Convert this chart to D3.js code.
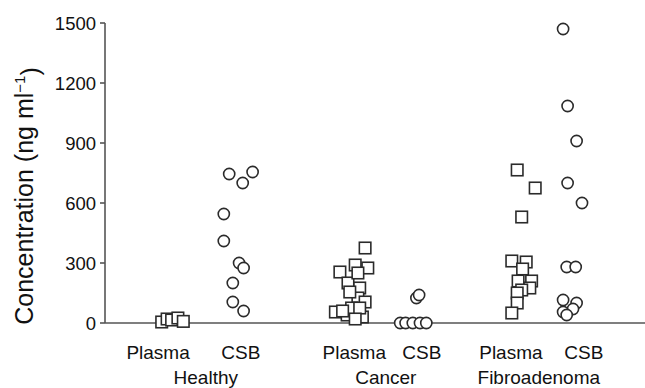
<!DOCTYPE html>
<html>
<head>
<meta charset="utf-8">
<script src="https://cdn.jsdelivr.net/npm/d3@7"></script>
<style>
  body { margin: 0; background: #fff; }
  text { font-family: "Liberation Sans", Arial, sans-serif; fill: #111; }
</style>
</head>
<body>
<svg id="canvas" width="645" height="388"></svg>
<script>
// values (ng/ml); x = horizontal position in column units
const healthyPlasma = [5, 20, 15, 25, 8];
const healthyPlasmaX = [6.3, 6.9, 7.4, 8.1, 8.7];
const healthyCsb = [745, 755, 700, 545, 410, 300, 275, 200, 105, 60];
const healthyCsbX = [13.8, 16.4, 15.3, 13.2, 13.2, 14.9, 15.4, 14.2, 14.2, 15.4];
const cancerPlasma = [375, 255, 290, 275, 200, 250, 175, 125, 155, 105, 55, 40, 30, 75, 75, 60, 20];
const cancerPlasmaX = [28.9, 26.1, 27.8, 29.2, 27.0, 28.1, 28.3, 28.1, 27.2, 28.9, 25.6, 26.9, 28.6, 27.4, 28.3, 26.4, 27.8];
const cancerCsb = [0, 0, 0, 0, 0, 125, 140];
const cancerCsbX = [32.8, 33.4, 34.2, 35.0, 35.7, 34.6, 34.9];
const fibroPlasma = [765, 675, 530, 310, 305, 270, 210, 210, 175, 165, 150, 100, 50];
const fibroPlasmaX = [45.8, 47.8, 46.3, 45.2, 46.8, 46.4, 45.9, 47.4, 47.2, 46.3, 45.8, 45.8, 45.2];
const fibroCsb = [1470, 1085, 910, 700, 600, 280, 280, 115, 100, 70, 55, 40];
const fibroCsbX = [50.9, 51.4, 52.4, 51.4, 53.0, 51.3, 52.3, 50.9, 52.4, 52.0, 50.9, 51.3];

const sampleLabels = ["Plasma", "CSB", "Plasma", "CSB", "Plasma", "CSB"];
const sampleLabelX = [5.9, 15.1, 27.7, 35.2, 45.1, 53.2];
const groupLabels = ["Healthy", "Cancer", "Fibroadenoma"];
const groupLabelX = [11.2, 31.2, 48.2];
const yTicks = [0, 300, 600, 900, 1200, 1500];

const svg = d3.select("#canvas");

const x = d3.scaleLinear().domain([0, 60]).range([105, 645]);
const y = d3.scaleLinear().domain([0, 1500]).range([323, 23]);

const ink = "#2b2b2b";
const axisColor = "#555";

// axes
svg.append("line")
  .attr("x1", x(0)).attr("x2", x(0))
  .attr("y1", y(1500)).attr("y2", y(0))
  .attr("stroke", axisColor).attr("stroke-width", 1.6);
svg.append("line")
  .attr("x1", x(0)).attr("x2", x(60))
  .attr("y1", y(0)).attr("y2", y(0))
  .attr("stroke", axisColor).attr("stroke-width", 1.6);

svg.selectAll(".ytick")
  .data(yTicks)
  .enter()
  .append("line")
  .attr("x1", x(0) - 5).attr("x2", x(0))
  .attr("y1", (d) => y(d)).attr("y2", (d) => y(d))
  .attr("stroke", axisColor).attr("stroke-width", 1.6);

svg.selectAll(".ylabel")
  .data(yTicks)
  .enter()
  .append("text")
  .attr("x", x(0) - 9)
  .attr("y", (d) => y(d))
  .attr("dy", "0.36em")
  .attr("text-anchor", "end")
  .style("font-size", "18.5px")
  .text((d) => d);

// y-axis title
const title = svg.append("text")
  .attr("transform", "translate(33," + 196 + ") rotate(-90)")
  .attr("text-anchor", "middle")
  .style("font-size", "25px");
title.append("tspan").text("Concentration (ng ml");
title.append("tspan").attr("dy", "-0.55em").style("font-size", "15px").text("\u22121");
title.append("tspan").attr("dy", "0.55em").text(")");

// markers
const squareSide = 11.5;
const drawSquares = (values, xs) => {
  svg.append("g")
    .selectAll("rect")
    .data(values)
    .enter()
    .append("rect")
    .attr("x", (d, i) => x(xs[i]) - squareSide / 2)
    .attr("y", (d) => y(d) - squareSide / 2)
    .attr("width", squareSide)
    .attr("height", squareSide)
    .attr("fill", "#fff")
    .attr("stroke", ink)
    .attr("stroke-width", 1.6);
};
const drawCircles = (values, xs) => {
  svg.append("g")
    .selectAll("circle")
    .data(values)
    .enter()
    .append("circle")
    .attr("cx", (d, i) => x(xs[i]))
    .attr("cy", (d) => y(d))
    .attr("r", 5.6)
    .attr("fill", "#fff")
    .attr("stroke", ink)
    .attr("stroke-width", 1.6);
};

drawSquares(healthyPlasma, healthyPlasmaX);
drawCircles(healthyCsb, healthyCsbX);
drawSquares(cancerPlasma, cancerPlasmaX);
drawCircles(cancerCsb, cancerCsbX);
drawSquares(fibroPlasma, fibroPlasmaX);
drawCircles(fibroCsb, fibroCsbX);

// category labels
svg.selectAll(".sample")
  .data(sampleLabels)
  .enter()
  .append("text")
  .attr("x", (d, i) => x(sampleLabelX[i]))
  .attr("y", 359)
  .attr("text-anchor", "middle")
  .style("font-size", "19px")
  .text((d) => d);

svg.selectAll(".group")
  .data(groupLabels)
  .enter()
  .append("text")
  .attr("x", (d, i) => x(groupLabelX[i]))
  .attr("y", 384)
  .attr("text-anchor", "middle")
  .style("font-size", "19px")
  .text((d) => d);
</script>
</body>
</html>
